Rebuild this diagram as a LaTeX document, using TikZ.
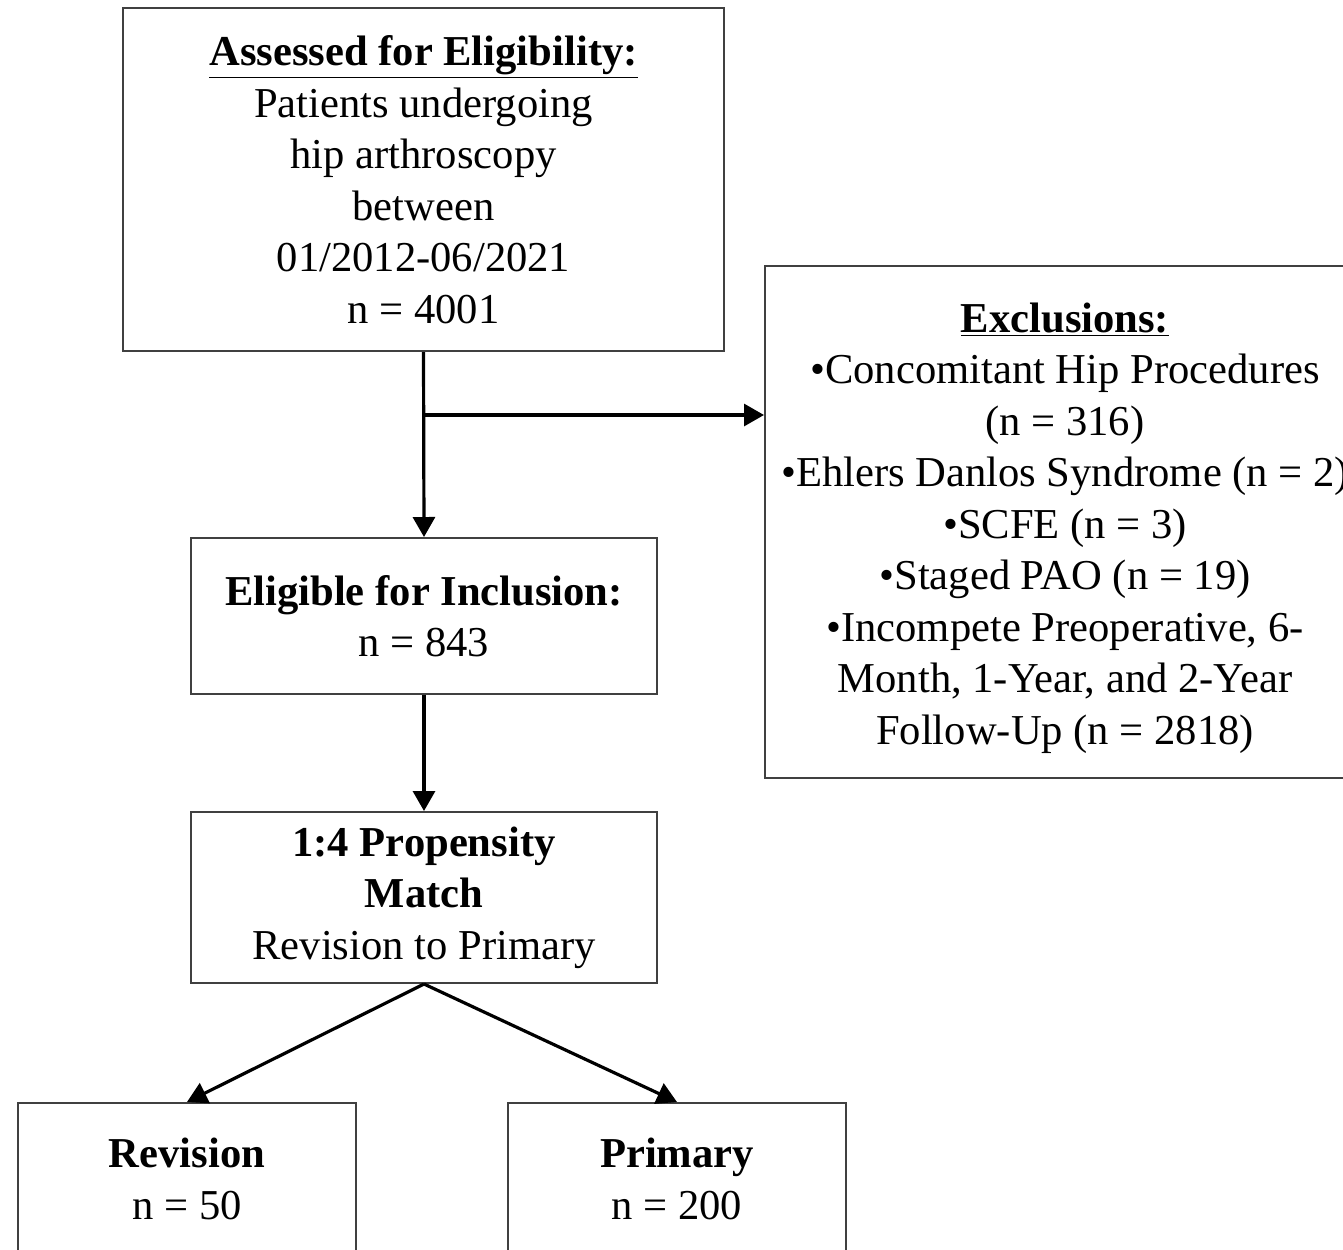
\documentclass[tikz,border=0pt]{standalone}
\usepackage{fontspec}
\setmainfont{Liberation Serif}
\usetikzlibrary{arrows.meta}

\tikzset{
    box/.style={draw=black!75, line width=1pt, align=center, inner sep=0pt,
        font=\fontsize{21.3}{25.75}\selectfont},
    flow/.style={-{Triangle[length=10pt,width=11pt]}, line width=1.6pt}
}

\begin{document}
\begin{tikzpicture}[x=0.5pt, y=-0.5pt]
    \useasboundingbox (0,0) rectangle (1343,1249);
    \clip (0,0) rectangle (1343,1249);
    \node[box, minimum width=300.5pt, minimum height=171.5pt] (assess) at (423.5,179.5)
        {\textbf{\underline{Assessed for Eligibility:}}\\ Patients undergoing\\ hip arthroscopy\\ between\\ 01/2012-06/2021\\ n = 4001};
    \node[box, minimum width=300pt, minimum height=256pt] (excl) at (1065,522)
        {\rule{0pt}{21pt}\textbf{\underline{Exclusions:}}\\ •Concomitant Hip Procedures\\ (n = 316)\\ •Ehlers Danlos Syndrome (n = 2)\\ •SCFE (n = 3)\\ •Staged PAO (n = 19)\\ •Incompete Preoperative, 6-\\ Month, 1-Year, and 2-Year\\ Follow-Up (n = 2818)};
    \node[box, minimum width=233pt, minimum height=78pt] (elig) at (424,616)
        {\textbf{Eligible for Inclusion:}\\ n = 843};
    \node[box, minimum width=233pt, minimum height=85.5pt] (match) at (424,897.5)
        {\textbf{1:4 Propensity}\\ \textbf{Match}\\ Revision to Primary};
    \node[box, minimum width=169pt, minimum height=76pt] (rev) at (187,1179)
        {\textbf{Revision}\\ n = 50};
    \node[box, minimum width=169pt, minimum height=76pt] (prim) at (677,1179)
        {\textbf{Primary}\\ n = 200};

    \coordinate (split) at (424,415);
    \draw[flow] (assess.south) -- (elig.north);
    \draw[flow] (split) -- (split -| excl.west);
    \draw[flow] (elig.south) -- (match.north);
    \draw[flow] (match.south) -- (rev.north);
    \draw[flow] (match.south) -- (prim.north);
\end{tikzpicture}
\end{document}
